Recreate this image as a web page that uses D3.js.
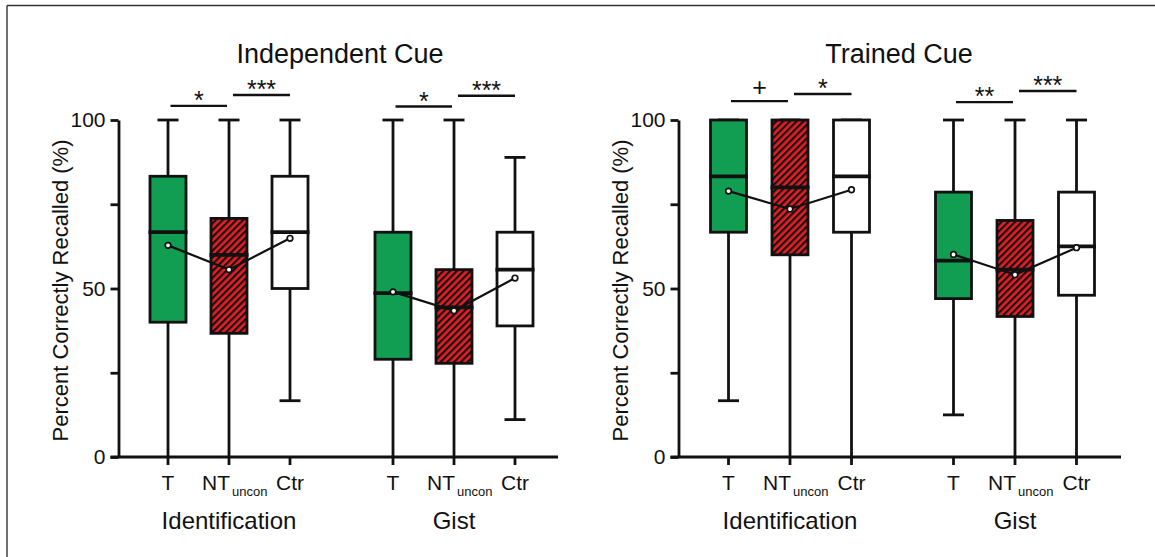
<!DOCTYPE html>
<html>
<head>
<meta charset="utf-8">
<script src="https://cdn.jsdelivr.net/npm/d3@7"></script>
<style>
  html, body { margin: 0; padding: 0; background: #fff; }
  svg { display: block; }
  text { font-family: "Liberation Sans", Arial, Helvetica, sans-serif; fill: #111; }
</style>
</head>
<body>
<svg id="chart" width="1155" height="557"></svg>
<script>
// ---------------- data ----------------
const panelTitles = ["Independent Cue", "Trained Cue"];
const groups = ["Identification", "Gist"];
const conditions = ["T", "NT", "Ctr"];
const conditionSub = ["", "uncon", ""];
const yTickValues = [0, 25, 50, 75, 100];
const yTickLabels = ["0", "", "50", "", "100"];
const yLabel = "Percent Correctly Recalled (%)";

// order: Identification T, NT, Ctr, Gist T, NT, Ctr
const indMin    = [0,    0,    16.7, 0,    0,    11.1];
const indQ1     = [40,   36.7, 50,   29,   27.8, 38.9];
const indMedian = [66.7, 60,   66.7, 48.6, 44.4, 55.6];
const indQ3     = [83.3, 70.8, 83.3, 66.7, 55.6, 66.7];
const indMax    = [100,  100,  100,  100,  100,  88.9];
const indMean   = [62.8, 55.6, 64.9, 49.0, 43.4, 53.1];

const trMin    = [16.7, 0,    0,    12.5, 0,    0];
const trQ1     = [66.7, 60,   66.7, 47,   41.7, 48];
const trMedian = [83.3, 80,   83.3, 58.3, 55.6, 62.5];
const trQ3     = [100,  100,  100,  78.6, 70.2, 78.6];
const trMax    = [100,  100,  100,  100,  100,  100];
const trMean   = [78.9, 73.6, 79.3, 60.1, 54.1, 62.1];

// significance labels: per group, [T vs NT, NT vs Ctr]
const indSig = [["*", "***"], ["*", "***"]];
const trSig  = [["+", "*"], ["**", "***"]];

// ---------------- layout ----------------
const svg = d3.select("#chart");
const colorFill = ["#119e52", "url(#hatch)", "#ffffff"];
const INK = "#111";

const defs = svg.append("defs");
const pat = defs.append("pattern")
  .attr("id", "hatch").attr("patternUnits", "userSpaceOnUse")
  .attr("width", 4.8).attr("height", 10)
  .attr("patternTransform", "rotate(45)");
pat.append("rect").attr("width", 4.8).attr("height", 10).attr("fill", "#ec1c24");
pat.append("rect").attr("width", 2.2).attr("height", 10).attr("fill", "#111");

// outer frame (top + left)
svg.append("line").attr("x1", 7).attr("y1", 5.5).attr("x2", 1155).attr("y2", 5.5)
  .attr("stroke", "#333").attr("stroke-width", 1.4);
svg.append("line").attr("x1", 7).attr("y1", 5.5).attr("x2", 7).attr("y2", 557)
  .attr("stroke", "#333").attr("stroke-width", 1.4);

const y = d3.scaleLinear().domain([0, 100]).range([457, 120]);

const panels = [
  { title: panelTitles[0], axisX: 118.5, axisEnd: 558, groupRange: [229, 454], inner: 61,
    min: indMin, q1: indQ1, med: indMedian, q3: indQ3, max: indMax, mean: indMean, sig: indSig,
    sigLevels: [[104.2, 107.4], [104.0, 107.2]], titleX: 340, yLabelX: 68 },
  { title: panelTitles[1], axisX: 678.5, axisEnd: 1121, groupRange: [790, 1015], inner: 61.5,
    min: trMin, q1: trQ1, med: trMedian, q3: trQ3, max: trMax, mean: trMean, sig: trSig,
    sigLevels: [[105.6, 107.7], [105.3, 108.6]], titleX: 899, yLabelX: 628 }
];

const boxW = 36, capW = 21, SW = 2.8;

panels.forEach(p => {
  const g = svg.append("g");
  const xGroup = d3.scalePoint().domain(groups).range(p.groupRange);
  const xCond = d3.scalePoint().domain(conditions).range([-p.inner, p.inner]);
  const xPos = (gi, ci) => xGroup(groups[gi]) + xCond(conditions[ci]);

  // title
  g.append("text").attr("x", p.titleX).attr("y", 63).attr("text-anchor", "middle")
    .style("font-size", "27px").text(p.title);

  // y axis
  const yAxis = d3.axisLeft(y).tickValues(yTickValues).tickSize(8).tickSizeOuter(0)
    .tickPadding(5).tickFormat((d, i) => yTickLabels[i]);
  const ya = g.append("g").attr("transform", `translate(${p.axisX},0)`).call(yAxis);
  ya.select(".domain").attr("stroke", INK).attr("stroke-width", SW);
  ya.selectAll(".tick line").attr("stroke", INK).attr("stroke-width", SW);
  ya.selectAll(".tick text").style("font-size", "21px").attr("fill", INK)
    .style("font-family", '"Liberation Sans", Arial, sans-serif');

  // y label
  g.append("text")
    .attr("transform", `translate(${p.yLabelX},${(y(0) + y(100)) / 2 + 2}) rotate(-90)`)
    .attr("text-anchor", "middle").style("font-size", "22px").text(yLabel);

  // x axis line
  g.append("line").attr("x1", p.axisX - 8).attr("x2", p.axisEnd)
    .attr("y1", y(0)).attr("y2", y(0)).attr("stroke", INK).attr("stroke-width", SW);

  const items = [];
  groups.forEach((gr, gi) => conditions.forEach((c, ci) => {
    const k = gi * 3 + ci;
    items.push({ gi, ci, k, x: xPos(gi, ci), min: p.min[k], q1: p.q1[k], med: p.med[k],
      q3: p.q3[k], max: p.max[k], mean: p.mean[k] });
  }));

  // x ticks and labels
  items.forEach(d => {
    g.append("line").attr("x1", d.x).attr("x2", d.x).attr("y1", y(0)).attr("y2", y(0) + 8)
      .attr("stroke", INK).attr("stroke-width", SW);
    if (conditionSub[d.ci]) {
      const t = g.append("text").attr("x", d.x - 27).attr("y", 490).style("font-size", "21px");
      t.append("tspan").text(conditions[d.ci]);
      t.append("tspan").attr("dx", 2).attr("dy", 6).style("font-size", "13px").text(conditionSub[d.ci]);
    } else {
      g.append("text").attr("x", d.x).attr("y", 490).attr("text-anchor", "middle")
        .style("font-size", "21px").text(conditions[d.ci]);
    }
  });

  // group labels
  groups.forEach((gr, gi) => {
    g.append("text").attr("x", xGroup(gr)).attr("y", 529).attr("text-anchor", "middle")
      .style("font-size", "24px").text(gr);
  });

  // whiskers
  items.forEach(d => {
    g.append("line").attr("x1", d.x).attr("x2", d.x).attr("y1", y(d.max)).attr("y2", y(d.q3))
      .attr("stroke", INK).attr("stroke-width", SW);
    g.append("line").attr("x1", d.x).attr("x2", d.x).attr("y1", y(d.q1)).attr("y2", y(d.min))
      .attr("stroke", INK).attr("stroke-width", SW);
    g.append("line").attr("x1", d.x - capW / 2).attr("x2", d.x + capW / 2)
      .attr("y1", y(d.max)).attr("y2", y(d.max)).attr("stroke", INK).attr("stroke-width", SW);
    if (d.min > 0)
      g.append("line").attr("x1", d.x - capW / 2).attr("x2", d.x + capW / 2)
        .attr("y1", y(d.min)).attr("y2", y(d.min)).attr("stroke", INK).attr("stroke-width", SW);
  });

  // boxes
  items.forEach(d => {
    g.append("rect").attr("x", d.x - boxW / 2).attr("y", y(d.q3))
      .attr("width", boxW).attr("height", y(d.q1) - y(d.q3))
      .attr("fill", colorFill[d.ci]).attr("stroke", INK).attr("stroke-width", SW);
  });
  // medians
  items.forEach(d => {
    g.append("line").attr("x1", d.x - boxW / 2 - 1.5).attr("x2", d.x + boxW / 2 + 1.5)
      .attr("y1", y(d.med)).attr("y2", y(d.med)).attr("stroke", INK).attr("stroke-width", 3.8);
  });

  // mean lines + markers
  const line = d3.line().x(d => d.x).y(d => y(d.mean));
  groups.forEach((gr, gi) => {
    const pts = items.filter(d => d.gi === gi);
    g.append("path").attr("d", line(pts)).attr("fill", "none")
      .attr("stroke", INK).attr("stroke-width", 2.2);
    pts.forEach(d => {
      g.append("circle").attr("cx", d.x).attr("cy", y(d.mean)).attr("r", 2.8)
        .attr("fill", "#fff").attr("stroke", INK).attr("stroke-width", 1.7);
    });
  });

  // significance brackets
  groups.forEach((gr, gi) => {
    const pairs = [[0, 1, 2.5, -2], [1, 2, 4, 0]];
    pairs.forEach((pr, pi) => {
      const x1 = xPos(gi, pr[0]) + pr[2], x2 = xPos(gi, pr[1]) + pr[3];
      const yy = y(p.sigLevels[gi][pi]);
      g.append("line").attr("x1", x1).attr("x2", x2).attr("y1", yy).attr("y2", yy)
        .attr("stroke", INK).attr("stroke-width", 2.4);
      const lab = p.sig[gi][pi];
      g.append("text").attr("x", (x1 + x2) / 2)
        .attr("y", lab === "+" ? yy - 5 : yy + 3)
        .attr("text-anchor", "middle").style("font-size", lab === "+" ? "25px" : "25px")
        .text(lab);
    });
  });
});
</script>
</body>
</html>
